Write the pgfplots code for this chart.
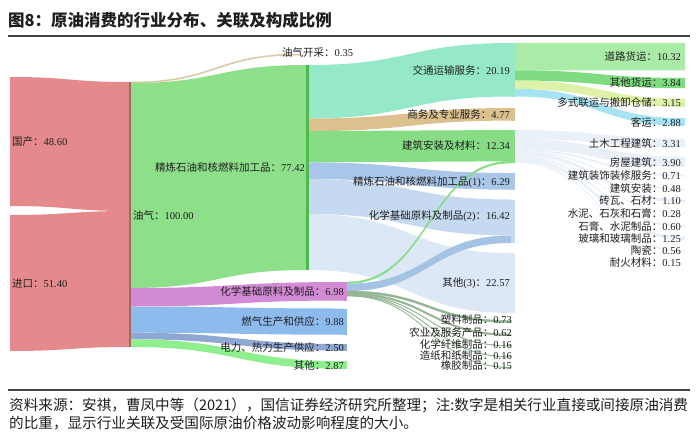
\documentclass[border=0pt]{standalone}
\usepackage{pgfplots}
\pgfplotsset{compat=1.18}
\usepackage{fontspec}
\setmainfont{Liberation Serif}
\newfontfamily\cjk{Noto Sans CJK SC}

\definecolor{cTxt}{HTML}{1E1E1E}
\definecolor{cRule}{HTML}{444444}
\definecolor{cRed}{HTML}{E58A8C}
\definecolor{cNode}{HTML}{9C6B5E}
\definecolor{cGreen}{HTML}{8EDF8A}
\definecolor{cGreenNode}{HTML}{4FB84F}
\definecolor{cTan}{HTML}{D9C9A3}
\definecolor{cPurple}{HTML}{D48BD6}
\definecolor{cBlue}{HTML}{8DBBEE}
\definecolor{cSteel}{HTML}{8FA7D3}
\definecolor{cLgreen}{HTML}{8FEF8F}
\definecolor{cMint}{HTML}{95E9C9}
\definecolor{cTan2}{HTML}{DCC08E}
\definecolor{cGreen2}{HTML}{86DD86}
\definecolor{cBlue1}{HTML}{A9C6E8}
\definecolor{cBlue2}{HTML}{C5DAF0}
\definecolor{cBlue3}{HTML}{DCE8F5}
\definecolor{cBlue4}{HTML}{A3C2E4}
\definecolor{cGG}{HTML}{93B593}
\definecolor{cRoad}{HTML}{ABEBA8}
\definecolor{cFreight}{HTML}{7FDB7F}
\definecolor{cMulti}{HTML}{DDF2A6}
\definecolor{cPass}{HTML}{A6E3F3}
\definecolor{cPale}{HTML}{E6EDF7}

% ribbon: [opts]{x0}{top0}{bot0}{x1}{top1}{bot1}{colour}
\newcommand\rib[8][]{%
  \pgfmathsetmacro\xm{(#2+#5)/2}%
  \edef\tmp{\noexpand\addplot[fill=#8,draw=none,forget plot,#1]
    coordinates {(#2,#3)}
    .. controls (axis cs:\xm,#3) and (axis cs:\xm,#6) .. (axis cs:#5,#6)
    -- (axis cs:#5,#7)
    .. controls (axis cs:\xm,#7) and (axis cs:\xm,#4) .. (axis cs:#2,#4) -- cycle;}%
  \tmp}
% node bar: {x0}{x1}{top}{bot}{colour}
\newcommand\nd[5]{\addplot[fill=#5,draw=none,forget plot]
  coordinates {(#1,#3) (#2,#3) (#2,#4) (#1,#4)} -- cycle;}
\newcommand\lfont{\fontsize{10.5}{12}\selectfont}
\newcommand\lb[4]{\node[anchor=#3,inner sep=0pt,font=\lfont,text=cTxt]
  at (axis cs:#1,#2) {#4};}

\begin{document}
\begin{tikzpicture}
\begin{axis}[width=700pt,height=436pt,scale only axis,
  xmin=0,xmax=700,ymin=0,ymax=436,y dir=reverse,
  hide axis,clip=false]
\path (axis cs:0,0) -- (axis cs:700,436);

% 国产 / 进口 -> 油气
\rib{10}{77}{206}{129}{82}{211}{cRed}
\rib{10}{215}{351}{129}{211}{347}{cRed}

% 油气 -> 第三列
\rib[draw=cTan,line width=0.5pt]{131}{82}{83}{300}{54}{55}{cTan}
\rib{131}{83}{288}{306}{65}{270}{cGreen}
\rib{131}{288}{306.5}{343}{282}{300.5}{cPurple}
\rib{131}{306.5}{332.7}{343}{308.5}{334.7}{cBlue}
\rib{131}{332.7}{339.3}{343}{344}{350.6}{cSteel}
\rib{131}{339.3}{347}{343}{361.2}{368.8}{cLgreen}

% 精炼石油和核燃料加工品 -> 第四列
\rib{308.5}{65}{118.5}{511}{43}{96.5}{cMint}
\rib{308.5}{118.5}{131.1}{511}{108}{120.6}{cTan2}
\rib{308.5}{131.1}{162.4}{511}{130}{161.3}{cGreen2}
\rib{308.5}{162.4}{179.1}{511}{173}{189.7}{cBlue1}
\rib{308.5}{179.1}{214}{511}{199.5}{235.5}{cBlue2}
\rib{308.5}{214}{270}{511}{253}{313}{cBlue3}

% 化学基础原料及制品 -> 第四列
\rib[draw=cGreen2,line width=0.4pt]{347}{282}{283.7}{511}{161.3}{163}{cGreen2}
\rib{347}{283.7}{291}{511}{235.5}{243}{cBlue4}
\rib[draw=cGG,line width=0.4pt]{347}{291}{293}{511}{320.5}{322.5}{cGG}
\rib[draw=cGG,line width=0.4pt]{347}{293}{294.7}{511}{334}{335.6}{cGG}
\rib[draw=cGG,line width=0.4pt]{347}{294.7}{295.2}{511}{345.6}{346.1}{cGG}
\rib[draw=cGG,line width=0.4pt]{347}{295.2}{295.7}{511}{356.6}{357.1}{cGG}
\rib[draw=cGG,line width=0.4pt]{347}{295.7}{296.1}{511}{367.3}{367.7}{cGG}

% 交通运输服务 -> 第五列
\rib{515}{43}{70.3}{685}{43}{70.3}{cRoad}
\rib{515}{70.3}{80.5}{685}{78}{88.2}{cFreight}
\rib{515}{80.5}{88.8}{685}{98.7}{107}{cMulti}
\rib{515}{88.8}{96.5}{685}{118.2}{125.8}{cPass}

% 建筑安装及材料 -> 第五列
\rib[fill opacity=0.85]{515}{130}{138.8}{685}{138.6}{147.4}{cPale}
\rib[fill opacity=0.85]{515}{138.8}{149.1}{685}{156.8}{167.1}{cPale}
\rib[fill opacity=0.85]{515}{149.1}{151}{685}{174.6}{176.5}{cPale}
\rib[fill opacity=0.85]{515}{151}{152.3}{685}{188.4}{189.7}{cPale}
\rib[fill opacity=0.85]{515}{152.3}{155.2}{685}{199.6}{202.5}{cPale}
\rib[fill opacity=0.85]{515}{155.2}{155.9}{685}{212.6}{213.4}{cPale}
\rib[fill opacity=0.85]{515}{155.9}{157.5}{685}{225.2}{226.8}{cPale}
\rib[fill opacity=0.85]{515}{157.5}{160.8}{685}{236.4}{239.7}{cPale}
\rib[fill opacity=0.85]{515}{160.8}{162.3}{685}{250.3}{251.7}{cPale}
\rib[fill opacity=0.85]{515}{162.3}{162.7}{685}{262.8}{263.2}{cPale}

% 节点
\nd{128.5}{131}{82}{347}{cNode}
\nd{306}{308.5}{65}{270}{cGreenNode}
\nd{343}{347}{282}{300.5}{cPurple}
\nd{343}{347}{308.5}{334.7}{cBlue}
\nd{343}{347}{344}{350.6}{cSteel}
\nd{343}{347}{361.2}{368.8}{cLgreen}
\nd{511}{515}{43}{96.5}{cMint}
\nd{511}{515}{108}{120.6}{cTan2}
\nd{511}{515}{130}{163}{cGreen2}
\nd{511}{515}{173}{189.7}{cBlue1}
\nd{511}{515}{199.5}{243}{cBlue2}
\nd{511}{515}{253}{313}{cBlue3}

% 标题与注释
\node[anchor=west,inner sep=0pt,text=cTxt,font=\fontsize{16.5}{18}\selectfont\cjk\bfseries]
  at (axis cs:8,20) {图8：原油消费的行业分布、关联及构成比例};
\draw[cRule,line width=1.2pt] (axis cs:8,36) -- (axis cs:690,36);
\draw[cRule,line width=1.2pt] (axis cs:8,390) -- (axis cs:690,390);
\node[anchor=west,inner sep=0pt,text=cTxt,font=\fontsize{14.6}{16}\selectfont\cjk]
  at (axis cs:9,405) {资料来源：安祺，曹凤中等（2021），国信证券经济研究所整理；注:数字是相关行业直接或间接原油消费};
\node[anchor=west,inner sep=0pt,text=cTxt,font=\fontsize{14.6}{16}\selectfont\cjk]
  at (axis cs:9,423) {的比重，显示行业关联及受国际原油价格波动影响程度的大小。};

% 标签
\lb{12}{141.5}{west}{{\cjk 国产：}48.60}
\lb{12}{283.5}{west}{{\cjk 进口：}51.40}
\lb{133}{215}{west}{{\cjk 油气：}100.00}
\lb{282}{52.5}{west}{{\cjk 油气开采：}0.35}
\lb{305}{167.5}{east}{{\cjk 精炼石油和核燃料加工品：}77.42}
\lb{344}{291.5}{east}{{\cjk 化学基础原料及制品：}6.98}
\lb{344}{321.5}{east}{{\cjk 燃气生产和供应：}9.88}
\lb{344}{347.3}{east}{{\cjk 电力、热力生产供应：}2.50}
\lb{344}{365}{east}{{\cjk 其他：}2.87}

\lb{510}{70}{east}{{\cjk 交通运输服务：}20.19}
\lb{510}{114.5}{east}{{\cjk 商务及专业服务：}4.77}
\lb{510}{146}{east}{{\cjk 建筑安装及材料：}12.34}
\lb{510}{182}{east}{{\cjk 精炼石油和核燃料加工品}(1){\cjk ：}6.29}
\lb{510}{216}{east}{{\cjk 化学基础原料及制品}(2){\cjk ：}16.42}
\lb{510}{283.5}{east}{{\cjk 其他}(3){\cjk ：}22.57}
\lb{512}{319.5}{east}{{\cjk 塑料制品：}0.73}
\lb{512}{333}{east}{{\cjk 农业及服务产品：}0.62}
\lb{512}{344.5}{east}{{\cjk 化学纤维制品：}0.16}
\lb{512}{355.5}{east}{{\cjk 造纸和纸制品：}0.16}
\lb{512}{366}{east}{{\cjk 橡胶制品：}0.15}

\lb{681}{57}{east}{{\cjk 道路货运：}10.32}
\lb{681}{83}{east}{{\cjk 其他货运：}3.84}
\lb{681}{103}{east}{{\cjk 多式联运与搬卸仓储：}3.15}
\lb{681}{122}{east}{{\cjk 客运：}2.88}
\lb{681}{143}{east}{{\cjk 土木工程建筑：}3.31}
\lb{681}{162}{east}{{\cjk 房屋建筑：}3.90}
\lb{681}{175.5}{east}{{\cjk 建筑装饰装修服务：}0.71}
\lb{681}{189}{east}{{\cjk 建筑安装：}0.48}
\lb{681}{201}{east}{{\cjk 砖瓦、石材：}1.10}
\lb{681}{213.5}{east}{{\cjk 水泥、石灰和石膏：}0.28}
\lb{681}{226}{east}{{\cjk 石膏、水泥制品：}0.60}
\lb{681}{238.5}{east}{{\cjk 玻璃和玻璃制品：}1.25}
\lb{681}{251}{east}{{\cjk 陶瓷：}0.56}
\lb{681}{263}{east}{{\cjk 耐火材料：}0.15}
\end{axis}
\end{tikzpicture}
\end{document}
